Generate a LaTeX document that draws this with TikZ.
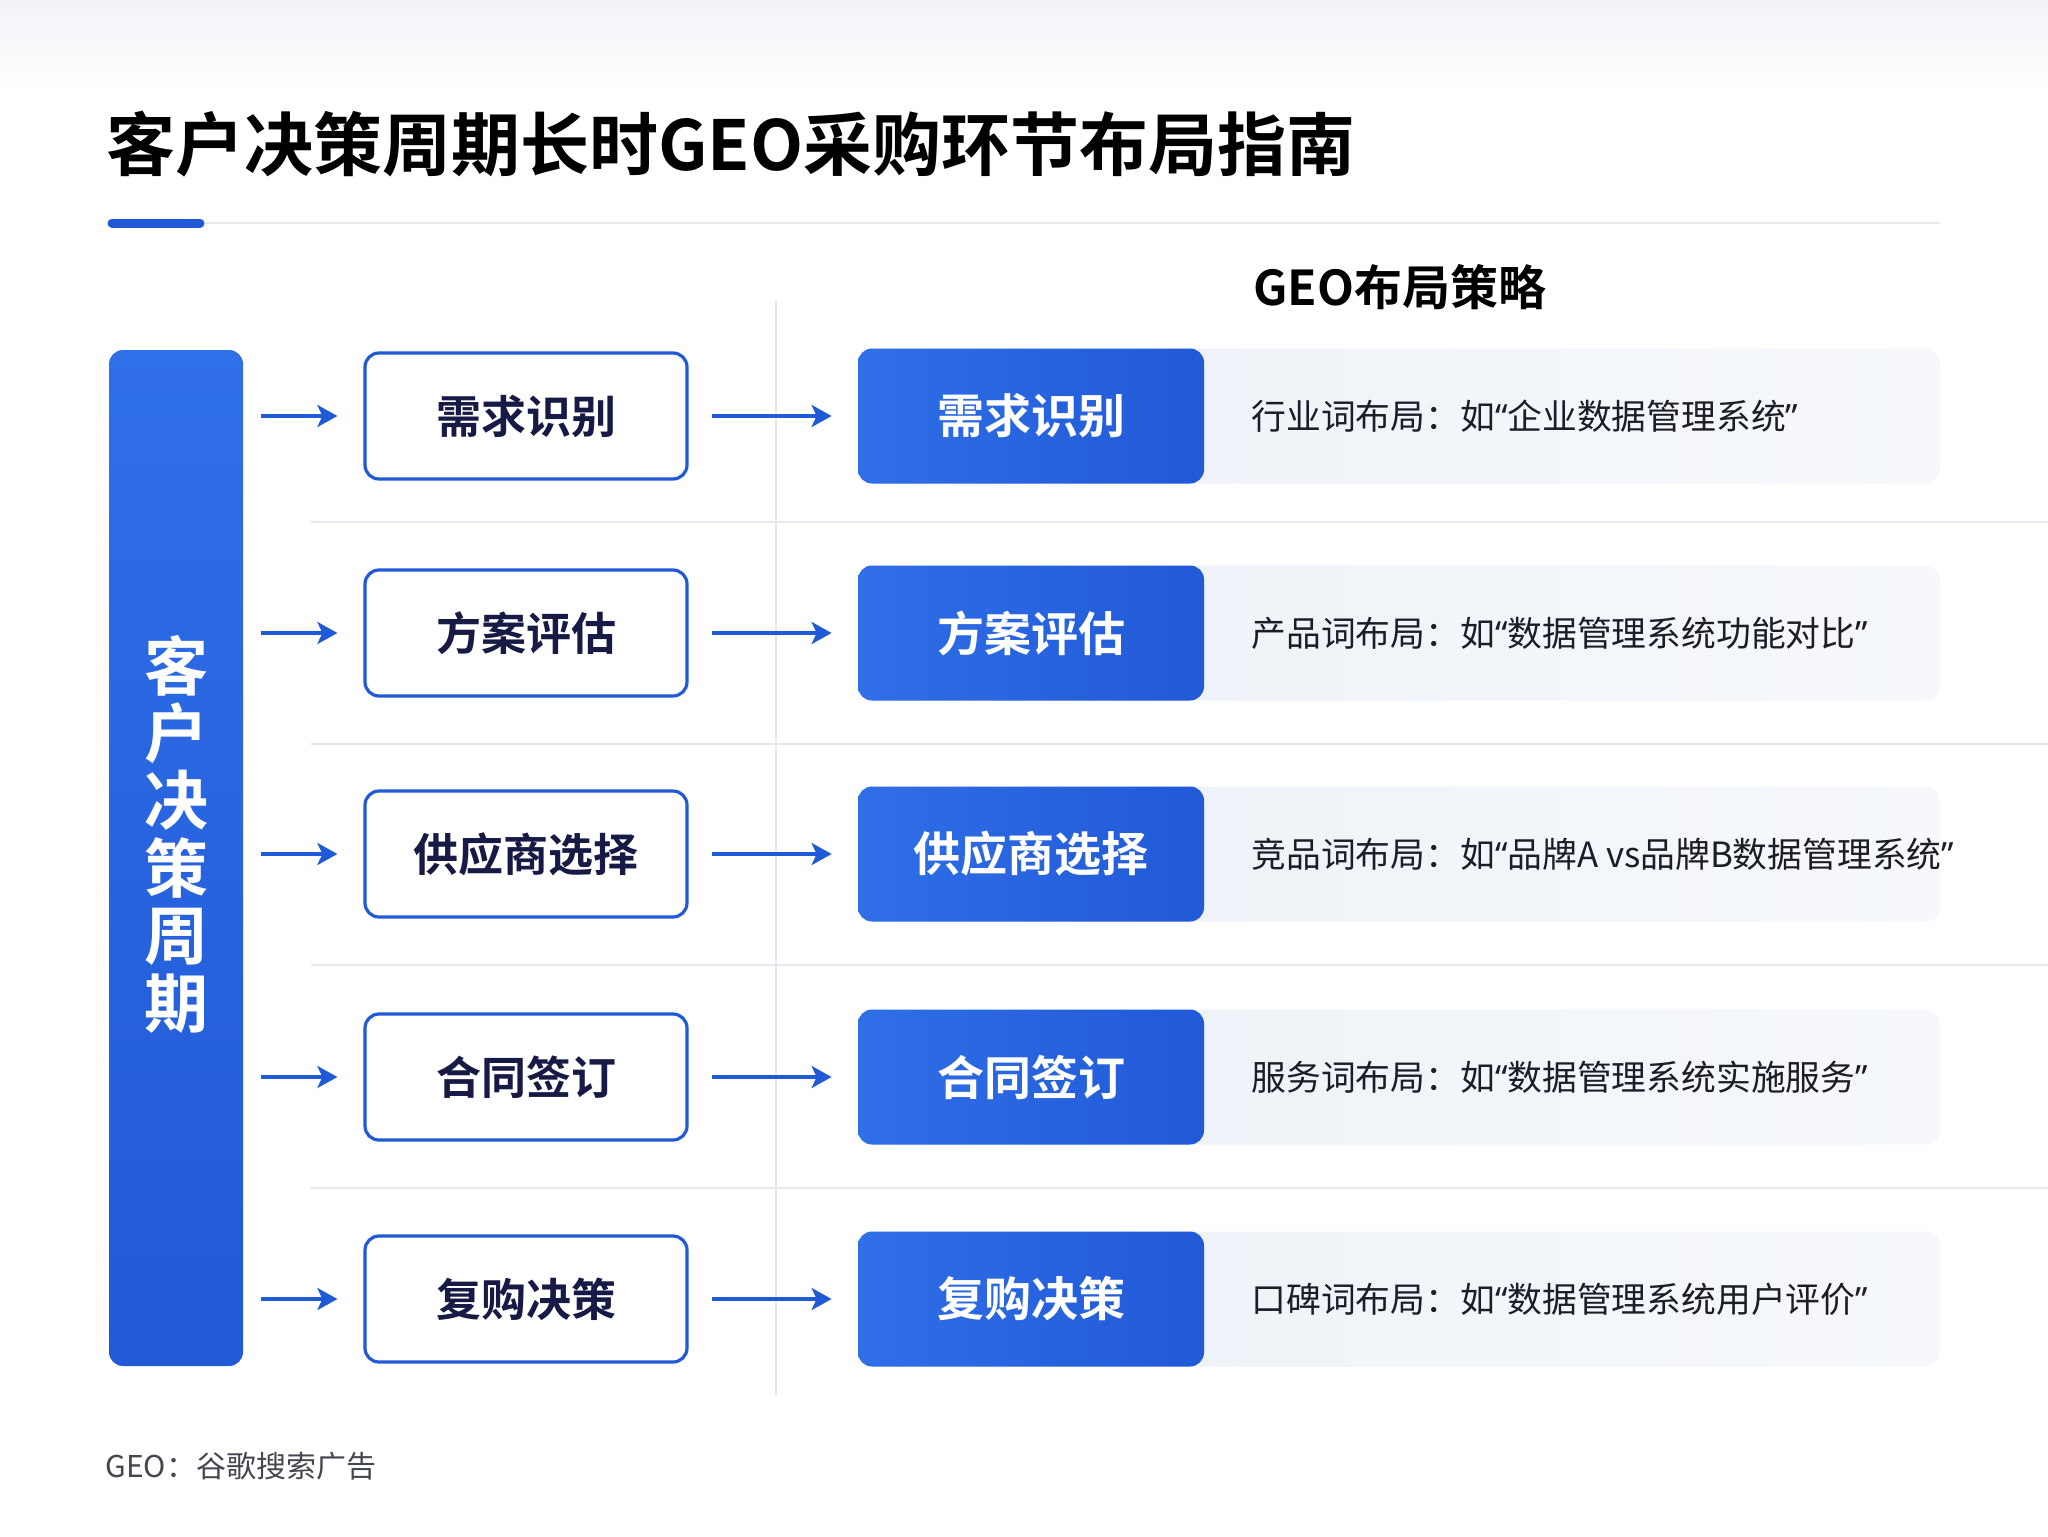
\documentclass[tikz,border=0pt]{standalone}
\usepackage{fontspec}
\setmainfont{Noto Sans CJK SC}[BoldFont=* Bold]
\newfontfamily\qfont{Noto Sans}
\newcommand\myoq{{\qfont “}}
\newcommand\mycq{{\qfont ”}}
\usetikzlibrary{arrows.meta}
\definecolor{bluA}{HTML}{2F6FE8}
\definecolor{bluB}{HTML}{2159D6}
\definecolor{arrblue}{HTML}{1F5BD6}
\definecolor{navy}{HTML}{161A45}
\definecolor{cardA}{HTML}{ECF1F8}
\definecolor{cardB}{HTML}{F6F8FB}
\definecolor{sepgray}{HTML}{E5E8EE}
\definecolor{txtdark}{HTML}{1C1E26}
\definecolor{footgray}{HTML}{444650}
\tikzset{
  outbox/.style={draw=bluB, line width=1.6pt, fill=white, rounded corners=7pt,
    minimum width=161pt, minimum height=63pt, inner sep=0pt, text=navy,
    font=\bfseries\fontsize{22.5}{26}\selectfont},
  bluebox/.style={left color=bluA, right color=bluB, draw=none, rounded corners=7pt,
    minimum width=173pt, minimum height=67.5pt, inner sep=0pt, text=white,
    font=\bfseries\fontsize{23.5}{27}\selectfont},
  cardbox/.style={left color=cardA, right color=cardB, draw=none, rounded corners=7pt,
    minimum width=541pt, minimum height=67.5pt, inner sep=0pt},
  cardtext/.style={anchor=west, text=txtdark, inner sep=0pt, font=\fontsize{17.4}{20}\selectfont},
  arr/.style={draw=arrblue, line width=1.7pt, -{Stealth[length=10pt,width=11pt,inset=2.5pt]}},
  sep/.style={draw=sepgray, line width=1.4pt}
}
\begin{document}
\begin{tikzpicture}[x=0.5pt,y=-0.5pt]
\useasboundingbox (0,0) rectangle (2048,1536);
\fill[white] (0,0) rectangle (2048,1536);
\fill[top color=cardB!70!sepgray, bottom color=white] (0,0) rectangle (2048,90);
% title
\node[anchor=west, inner sep=0pt, font=\bfseries\fontsize{34.5}{40}\selectfont, text=black] (title) at (106,144) {客户决策周期长时GEO采购环节布局指南};
\draw[sepgray, line width=1pt] (205,223) -- (1940,223);
\draw[bluB, line width=4.5pt, line cap=round] (112,223) -- (200,223);
% header
\node[inner sep=0pt, font=\bfseries\fontsize{24}{28}\selectfont, text=black] (hdr) at (1400,287) {GEO布局策略};
% vertical divider
\draw[sepgray, line width=1pt] (776,300) -- (776,1396);
% separators
\foreach \yy in {522,744,965,1188}{\draw[sep] (311,\yy) -- (2048,\yy);}
% left bar
\node[top color=bluA, bottom color=bluB, rounded corners=7pt, minimum width=67pt, minimum height=508pt, inner sep=0pt] (bar) at (176,858) {};
\node[text=white, align=center, inner sep=0pt, font=\bfseries\fontsize{32}{33.7}\selectfont] (bartxt) at (176,834) {客\\户\\决\\策\\周\\期};
% rows
\foreach \n/\y/\lab/\desc in {
  1/416/需求识别/{行业词布局：如\myoq 企业数据管理系统\mycq},
  2/633/方案评估/{产品词布局：如\myoq 数据管理系统功能对比\mycq},
  3/854/供应商选择/{竞品词布局：如\myoq 品牌A vs品牌B数据管理系统\mycq},
  4/1077/合同签订/{服务词布局：如\myoq 数据管理系统实施服务\mycq},
  5/1299/复购决策/{口碑词布局：如\myoq 数据管理系统用户评价\mycq}}{
  \node[cardbox] (c\n) at (1399,\y) {};
  \node[bluebox] (b\n) at (1031,\y) {\lab};
  \node[outbox] (o\n) at (526,\y) {\lab};
  \node[cardtext] (t\n) at (1251,\y) {\desc};
  \coordinate (s\n) at (261,\y);
  \draw[arr, shorten >=13pt] (s\n) -- (o\n);
  \draw[arr, shorten <=11.5pt, shorten >=13pt] (o\n) -- (b\n);
}
% footer
\node[anchor=west, inner sep=0pt, text=footgray, font=\fontsize{15}{18}\selectfont] (foot) at (105,1466) {GEO：谷歌搜索广告};
\end{tikzpicture}
\end{document}
